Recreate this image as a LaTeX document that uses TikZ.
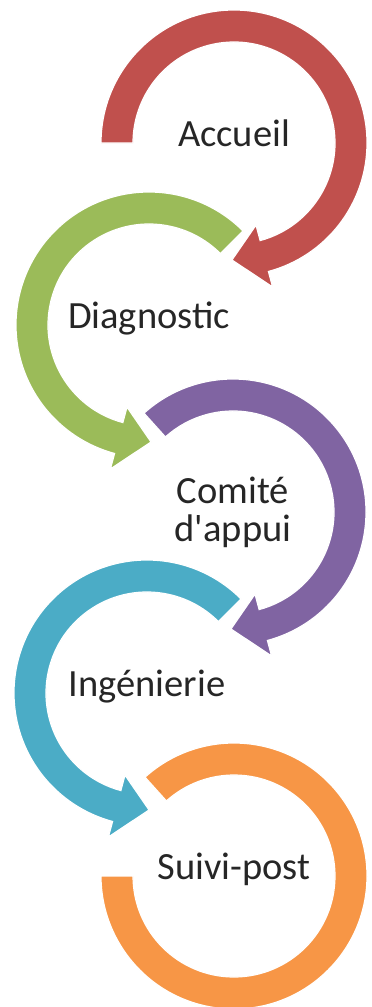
\documentclass[tikz,border=0pt]{standalone}
\usepackage{fontspec}
\setmainfont{Carlito}
\usepackage{xcolor}
\definecolor{accred}{HTML}{C0504D}
\definecolor{accgreen}{HTML}{9BBB59}
\definecolor{accpurple}{HTML}{8064A2}
\definecolor{accblue}{HTML}{4BACC6}
\definecolor{accorange}{HTML}{F79646}

\begin{document}
\begin{tikzpicture}[x=1pt,y=1pt,
  stage/.style={font=\fontsize{38.5}{38}\selectfont, text=black!85, inner sep=0pt, align=center},
  oneline/.style={text height=0.85em, text depth=0.2em},
  band/.style={draw=white, line width=1.2pt}]
  \useasboundingbox (0,0) rectangle (372,-1007);

  \node[stage,oneline] (accueil) at (234,-143) {Accueil};
  \node[stage,oneline] (diag) at (149,-325) {Diagnostic};
  \node[stage] (comite) at (233,-512) {Comit\'e\\d\textquotesingle appui};
  \node[stage,oneline] (inge) at (147,-693) {Ing\'enierie};
  \node[stage,oneline] (suivi) at (234,-876) {Suivi-post};

  % red, clockwise
  \fill[accred, band] ([shift={(180:133pt)}]accueil.center) arc[start angle=180, end angle=-75, radius=133pt]
    -- ([shift={(-75:149pt)}]accueil.center) -- ([shift={(-91:117pt)}]accueil.center)
    -- ([shift={(-75:85pt)}]accueil.center) -- ([shift={(-75:101pt)}]accueil.center)
    arc[start angle=-75, end angle=180, radius=101pt] -- cycle;
  % green, anticlockwise
  \fill[accgreen, band] ([shift={(45:133pt)}]diag.center) arc[start angle=45, end angle=255, radius=133pt]
    -- ([shift={(255:149pt)}]diag.center) -- ([shift={(271:117pt)}]diag.center)
    -- ([shift={(255:85pt)}]diag.center) -- ([shift={(255:101pt)}]diag.center)
    arc[start angle=255, end angle=45, radius=101pt] -- cycle;
  % purple, clockwise
  \fill[accpurple, band] ([shift={(132:133pt)}]comite.center) arc[start angle=132, end angle=-75, radius=133pt]
    -- ([shift={(-75:149pt)}]comite.center) -- ([shift={(-91:117pt)}]comite.center)
    -- ([shift={(-75:85pt)}]comite.center) -- ([shift={(-75:101pt)}]comite.center)
    arc[start angle=-75, end angle=132, radius=101pt] -- cycle;
  % blue, anticlockwise
  \fill[accblue, band] ([shift={(45:133pt)}]inge.center) arc[start angle=45, end angle=255, radius=133pt]
    -- ([shift={(255:149pt)}]inge.center) -- ([shift={(271:117pt)}]inge.center)
    -- ([shift={(255:85pt)}]inge.center) -- ([shift={(255:101pt)}]inge.center)
    arc[start angle=255, end angle=45, radius=101pt] -- cycle;
  % orange, no head
  \fill[accorange, band] ([shift={(132:133pt)}]suivi.center) arc[start angle=132, end angle=-180, radius=133pt]
    -- ([shift={(180:101pt)}]suivi.center)
    arc[start angle=-180, end angle=132, radius=101pt] -- cycle;

\end{tikzpicture}
\end{document}
